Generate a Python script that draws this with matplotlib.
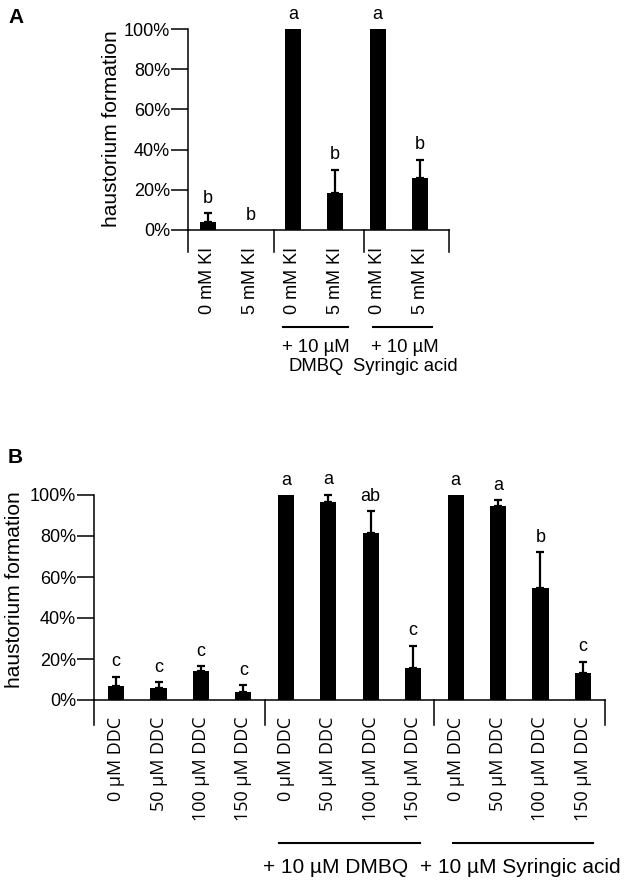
import numpy as np
import matplotlib.pyplot as plt
from matplotlib.transforms import blended_transform_factory

plt.rcParams['font.family'] = ['Liberation Sans', 'DejaVu Sans']

# panel A: KI treatment
a_labels = ['0 mM KI', '5 mM KI', '0 mM KI', '5 mM KI', '0 mM KI', '5 mM KI']
a_mean = [3.8, 0, 100, 18.4, 100, 25.9]
a_err = [4.5, 0, 0, 11.6, 0, 9.1]
a_sig = ['b', 'b', 'a', 'b', 'a', 'b']
a_groups = ['+ 10 µM\nDMBQ', '+ 10 µM\nSyringic acid']

# panel B: DDC treatment
b_labels = ['0 µM DDC', '50 µM DDC', '100 µM DDC', '150 µM DDC'] * 3
b_mean = [6.8, 6.0, 14.1, 4.0, 100, 96.4, 81.3, 15.8, 100, 94.8, 54.5, 13.3]
b_err = [4.6, 2.6, 2.6, 3.2, 0, 3.8, 11.0, 10.7, 0, 2.8, 17.5, 5.4]
b_sig = ['c', 'c', 'c', 'c', 'a', 'a', 'ab', 'c', 'a', 'a', 'b', 'c']
b_groups = ['+ 10 µM DMBQ', '+ 10 µM Syringic acid']

yticks = [0, 20, 40, 60, 80, 100]

W, H = 632, 882
fig = plt.figure(figsize=(W / 100, H / 100), dpi=100)


def px_axes(l, t, r, b):
    return fig.add_axes([l / W, 1 - b / H, (r - l) / W, (b - t) / H])


def draw(ax, mean, err, sig, labels, xlim, dividers, drop, tickfont):
    x = np.arange(len(mean))
    mean = np.array(mean)
    err = np.array(err)
    ax.bar(x, mean, width=0.38, color='black', zorder=2)
    has = err > 0
    ax.errorbar(x[has], mean[has], yerr=[np.zeros(has.sum()), err[has]], fmt='none',
                ecolor='black', elinewidth=1.6, capsize=3, capthick=1.6,
                clip_on=False, zorder=3)
    for xi, m, e, s in zip(x, mean, err, sig):
        ax.annotate(s, (xi, m + e), xytext=(0, 4.5), textcoords='offset points',
                    ha='center', va='bottom', fontsize=13, annotation_clip=False)
    ax.set_xlim(*xlim)
    ax.set_ylim(0, 100)
    ax.set_yticks(yticks)
    ax.set_yticklabels([str(v) + '%' for v in yticks])
    ax.set_xticks(x)
    ax.set_xticklabels(labels, rotation=90, fontsize=13, family=tickfont)
    ax.tick_params(axis='x', length=0, pad=12)
    ax.tick_params(axis='y', length=12, width=1.1, labelsize=13, pad=1)
    for s in ['top', 'right']:
        ax.spines[s].set_visible(False)
    for s in ['left', 'bottom']:
        ax.spines[s].set_linewidth(1.1)
    for d in [xlim[0]] + dividers + [xlim[1]]:
        ax.plot([d, d], [0, -drop], color='black', lw=1.1, clip_on=False)


# fig A
axA = px_axes(188, 29, 449, 230)
draw(axA, a_mean, a_err, a_sig, a_labels, (-0.47, 5.68), [1.56, 3.68], 11,
     ['Liberation Sans', 'DejaVu Sans'])
axA.set_ylabel('haustorium formation', fontsize=15)
axA.yaxis.set_label_coords(-0.257, 0.505)
trA = blended_transform_factory(axA.transData, axA.transAxes)
for (x0, x1), xt, txt in zip([(1.77, 3.30), (3.89, 5.28)], [2.55, 4.65], a_groups):
    axA.plot([x0, x1], [-0.483, -0.483], color='black', lw=1.5,
             transform=trA, clip_on=False)
    axA.text(xt, -0.632, txt, transform=trA, ha='center', va='center',
             fontsize=13.3, linespacing=1.2, multialignment='center')

# fig B
axB = px_axes(94, 495, 605, 700)
draw(axB, b_mean, b_err, b_sig, b_labels, (-0.52, 11.52), [3.5, 7.5], 12.2,
     ['Open Sans', 'DejaVu Sans'])
axB.set_ylabel('haustorium formation', fontsize=15)
axB.yaxis.set_label_coords(-0.137, 0.537)
trB = blended_transform_factory(axB.transData, axB.transAxes)
for (x0, x1), xt, txt in zip([(3.84, 7.16), (7.94, 11.24)], [5.17, 9.52], b_groups):
    axB.plot([x0, x1], [-0.698, -0.698], color='black', lw=1.5,
             transform=trB, clip_on=False)
    axB.text(xt, -0.815, txt, transform=trB, ha='center', va='center', fontsize=15)

fig.text(8 / W, 1 - 23 / H, 'A', fontsize=15, fontweight='bold', va='baseline')
fig.text(8 / W, 1 - 463 / H, 'B', fontsize=15, fontweight='bold', va='baseline')

fig.savefig('out.png', dpi=100)
